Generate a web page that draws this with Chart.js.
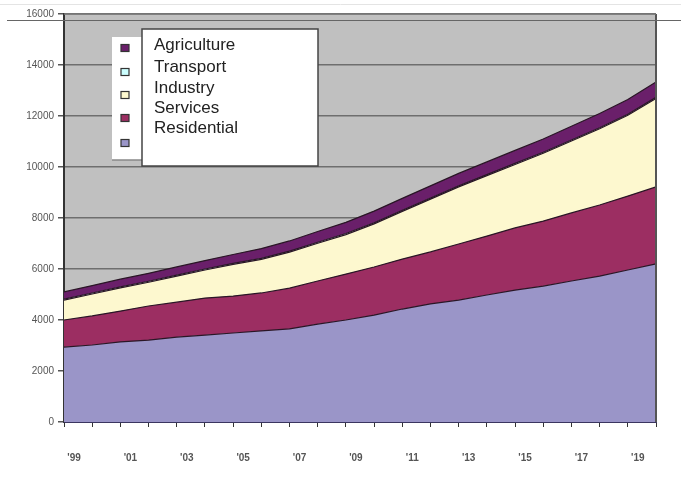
<!DOCTYPE html>
<html>
<head>
<meta charset="utf-8">
<script src="https://cdn.jsdelivr.net/npm/chart.js@4/dist/chart.umd.min.js"></script>
<style>
body{margin:0;background:#fff;}
#wrap{width:681px;height:482px;position:relative;}
</style>
</head>
<body>
<div id="wrap"><canvas id="cnv" width="681" height="482"></canvas></div>
<script>
var years=["1999","2000","2001","2002","2003","2004","2005","2006","2007","2008","2009","2010","2011","2012","2013","2014","2015","2016","2017","2018","2019","2020"];
var residential=[2940,3020,3140,3210,3330,3410,3490,3570,3650,3840,4000,4190,4430,4630,4780,4980,5170,5330,5530,5720,5960,6200];
var services=[1060,1140,1210,1340,1370,1450,1450,1490,1600,1690,1800,1890,1960,2040,2200,2310,2440,2550,2670,2790,2900,3020];
var industry=[780,860,910,930,1020,1100,1240,1320,1410,1480,1550,1690,1870,2070,2240,2370,2490,2660,2820,2990,3170,3470];
var transport=[40,40,40,40,40,40,40,40,40,40,40,40,40,40,40,40,40,40,40,40,40,40];
var agriculture=[280,290,300,310,320,330,350,380,400,420,440,460,470,480,490,500,510,520,540,560,580,600];
var yTicks=[0,2000,4000,6000,8000,10000,12000,14000,16000];

var legendItems=[
	{label:"Agriculture",color:"#6a1f6a"},
	{label:"Transport",color:"#ccffff"},
	{label:"Industry",color:"#fdf8cf"},
	{label:"Services",color:"#9c2e62"},
	{label:"Residential",color:"#9a95c8"}
];

function mkSet(label,data,color,fill){
	return {label:label,data:data,backgroundColor:color,borderColor:"#2a1626",borderWidth:1.2,fill:fill,pointRadius:0,tension:0};
}

// gray plot background + odd top line
var bgPlugin={
	id:"bg",
	beforeDraw:function(chart){
		var c=chart.ctx,a=chart.chartArea;
		c.save();
		c.fillStyle="#c0c0c0";
		c.fillRect(a.left,a.top,a.right-a.left,a.bottom-a.top);
		c.restore();
	},
	afterDraw:function(chart){
		var c=chart.ctx,a=chart.chartArea;
		c.save();
		// frame
		c.strokeStyle="#555";
		c.lineWidth=2;
		c.beginPath();
		c.moveTo(a.right,a.top);c.lineTo(a.right,a.bottom);
		c.stroke();
		c.strokeStyle="#777";
		c.lineWidth=1.5;
		c.beginPath();
		c.moveTo(a.left,a.top);c.lineTo(a.right,a.top);
		c.stroke();
		c.strokeStyle="#666";
		c.lineWidth=1.2;
		c.beginPath();
		c.moveTo(7,20.5);c.lineTo(681,20.5);
		c.stroke();
		c.strokeStyle="#e4e4e4";
		c.lineWidth=1;
		c.beginPath();
		c.moveTo(0,4.5);c.lineTo(681,4.5);
		c.stroke();

		// legend
		c.fillStyle="#fff";
		c.fillRect(112,37,31,123);
		c.strokeStyle="#888";
		c.lineWidth=1.5;
		c.beginPath();c.moveTo(112,160);c.lineTo(143,160);c.stroke();
		c.fillStyle="#fff";
		c.fillRect(142,29,176,137);
		c.strokeStyle="#444";
		c.lineWidth=1.5;
		c.strokeRect(142,29,176,137);
		var sy=[48,72,95,118,143];
		var ty=[45,67,88,108,128];
		c.font="17px 'Liberation Sans', Arial, sans-serif";
		c.textBaseline="middle";
		for(var i=0;i<legendItems.length;i++){
			c.fillStyle=legendItems[i].color;
			c.fillRect(121,sy[i]-3.5,8,7);
			c.strokeStyle="#333";
			c.lineWidth=1.2;
			c.strokeRect(121,sy[i]-3.5,8,7);
			c.fillStyle="#222";
			c.fillText(legendItems[i].label,154,ty[i]);
		}
		c.restore();
	}
};

var ctx=document.getElementById("cnv").getContext("2d");
var chart=new Chart(ctx,{
	type:"line",
	data:{
		labels:years,
		datasets:[
			mkSet("Residential",residential,"#9a95c8","origin"),
			mkSet("Services",services,"#9c2e62","-1"),
			mkSet("Industry",industry,"#fdf8cf","-1"),
			mkSet("Transport",transport,"#ccffff","-1"),
			mkSet("Agriculture",agriculture,"#6a1f6a","-1")
		]
	},
	options:{
		responsive:false,
		animation:false,
		layout:{padding:{left:0,right:23,top:14,bottom:0}},
		plugins:{legend:{display:false},tooltip:{enabled:false}},
		scales:{
			x:{
				offset:false,
				grid:{drawOnChartArea:false,drawTicks:true,tickLength:5,color:"#333"},
				border:{color:"#3a3560",width:2},
				ticks:{
					autoSkip:false,maxRotation:0,padding:25,labelOffset:10,
					color:"#555",font:{family:"'Liberation Sans', Arial, sans-serif",size:10,weight:"bold"},
					callback:function(v,i){
						var y=parseInt(years[i],10);
						if(y%2==0)return "";
						return "'"+years[i].slice(2);
					}
				},
				afterFit:function(s){s.height=60;}
			},
			y:{
				stacked:true,
				min:0,max:16000,
				afterBuildTicks:function(s){s.ticks=yTicks.map(function(v){return {value:v};});},
				grid:{color:"#6e6e6e",lineWidth:1.5,tickLength:6,tickColor:"#555"},
				border:{color:"#333",width:2},
				ticks:{padding:4,color:"#555",font:{family:"'Liberation Sans', Arial, sans-serif",size:10},
					callback:function(v){return String(v);}},
				afterFit:function(s){s.width=64;}
			}
		}
	},
	plugins:[bgPlugin]
});
</script>
</body>
</html>
